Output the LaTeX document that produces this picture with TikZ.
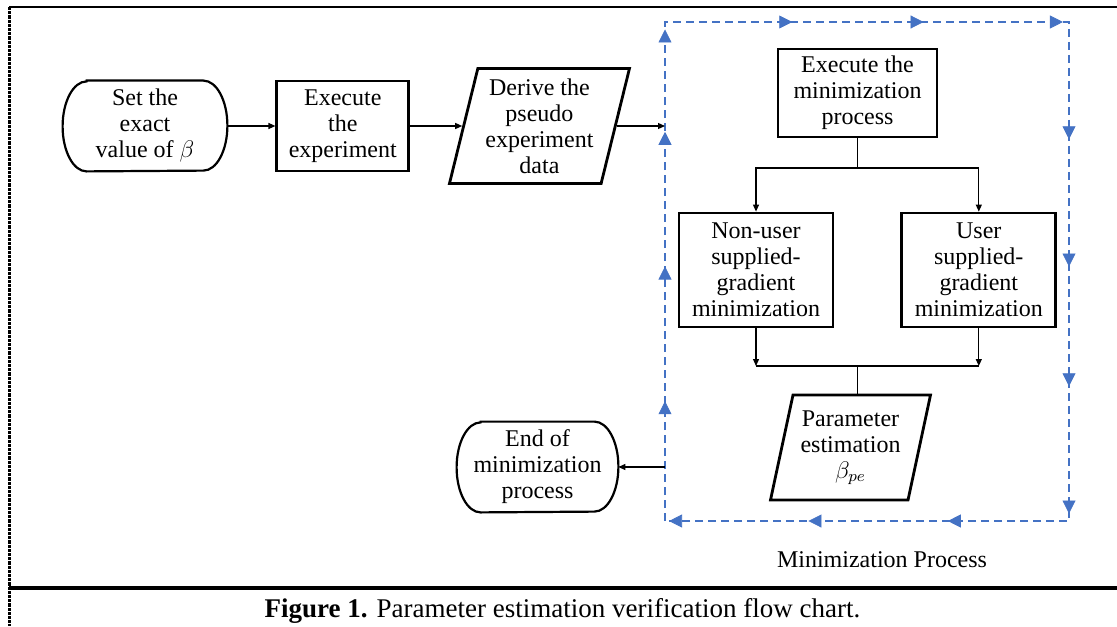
\documentclass[tikz,border=0pt]{standalone}
\usepackage{fontspec}
\setmainfont{Liberation Serif}
\usetikzlibrary{shapes,arrows.meta,positioning,decorations.markings}
\definecolor{flowblue}{RGB}{68,114,196}

\begin{document}
\begin{tikzpicture}[x=0.5pt,y=-0.5pt,font=\fontsize{12}{13}\selectfont,
  box/.style={draw,line width=1.4pt,align=center,inner sep=1pt},
  proc/.style={box,minimum width=66pt,minimum height=45pt},
  data/.style={box,trapezium,trapezium left angle=74,trapezium right angle=106,
    trapezium stretches body},
  term/.style={align=center,minimum width=82pt,minimum height=45pt,inner sep=0pt},
  line/.style={line width=0.6pt},
  arr/.style={line,-{Triangle[length=3.5pt,width=3pt]}},
  loopline/.style={draw=flowblue,line width=0.8pt,dash pattern=on 4pt off 2.5pt},
  looptip/.style={decorate,decoration={markings,
    mark=at position #1 with {\arrow[flowblue]{Triangle[length=6.5pt,width=6.5pt]}}}}]
\useasboundingbox (0,0) rectangle (1117,626);

% frame of the figure
\draw[line width=1pt] (9,7) -- (1117,7);
\draw[line width=1.6pt] (9,588) -- (1117,588);
\draw[line width=1.5pt,dash pattern=on 1.6pt off 0.5pt] (9,7) -- (9,626);

% main chain
\node[term](start) at (145,126) {Set the\\exact\\value of $\beta$};
\node[proc](exp)[right=24pt of start] {Execute\\the\\experiment};
\node[data,minimum width=90pt,minimum height=57.5pt](pseudo)[right=26pt of exp]
  {Derive the\\pseudo\\experiment\\data};

% minimization block
\coordinate (tl) at (665,22);
\coordinate (tr) at (1069,22);
\coordinate (br) at (1069,521);
\coordinate (bl) at (665,521);
\node[proc,minimum width=79.5pt,minimum height=44pt](minexec) at (857.5,93)
  {Execute the\\minimization\\process};
\node[proc,minimum width=77pt,minimum height=57pt](nonuser) at (756,270)
  {Non-user\\supplied-\\gradient\\minimization};
\node[proc,minimum width=77pt,minimum height=57pt](user)[right=33pt of nonuser]
  {User\\supplied-\\gradient\\minimization};
\node[data,minimum width=80pt,minimum height=52.5pt](pe) at (850.5,447.5)
  {Parameter\\estimation\\$\beta_{pe}$};
\node[term,minimum width=80.5pt](finish) at (537.5,467)
  {End of\\minimization\\process};
\node(label) at (882,560) {Minimization Process};
\node[font=\fontsize{13.5}{15}\selectfont,anchor=base](caption) at (562.5,617)
  {\textbf{Figure 1.} Parameter estimation verification flow chart.};

% terminal outlines
\foreach \n in {start,finish}
  \draw[line width=1.1pt] ([xshift=12pt]\n.north west) -- ([xshift=-12pt]\n.north east)
    arc[start angle=90,end angle=-90,x radius=12pt,y radius=22.5pt]
    -- ([xshift=12pt]\n.south west)
    arc[start angle=270,end angle=90,x radius=12pt,y radius=22.5pt] -- cycle;

% dashed loop
\draw[loopline] (bl) -- (tl) -- (tr) -- (br) -- cycle;
\foreach \p in {0.24,0.51,0.78,0.985} \path[looptip=\p] (bl) -- (tl);
\foreach \p in {0.315,0.64,0.985} \path[looptip=\p] (tl) -- (tr);
\foreach \p in {0.235,0.49,0.73,0.985} \path[looptip=\p] (tr) -- (br);
\foreach \p in {0.3,0.645,0.99} \path[looptip=\p] (br) -- (bl);

% connectors
\coordinate (split) at (857.5,168);
\coordinate (join) at (857.5,366);
\draw[arr](start)--(exp);
\draw[arr](exp)--(pseudo.west);
\draw[arr](pseudo.east)--(pseudo.east -| tl);
\draw[line](minexec)--(split);
\draw[arr](split)-|(nonuser.north);
\draw[arr](split)-|(user.north);
\draw[arr](nonuser.south)--(nonuser.south |- join);
\draw[arr](user.south)--(user.south |- join);
\draw[line](nonuser.south |- join)--(user.south |- join);
\draw[line](join)--(join |- pe.north);
\draw[arr](finish.east -| bl)--(finish.east);
\end{tikzpicture}
\end{document}
